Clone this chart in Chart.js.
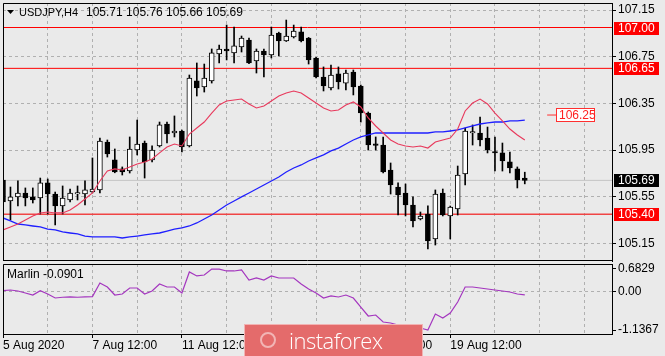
<!DOCTYPE html>
<html><head><meta charset="utf-8">
<script src="https://cdn.jsdelivr.net/npm/chart.js@4.4.1/dist/chart.umd.min.js"></script>
<style>
html,body{margin:0;padding:0;background:#eaeaea;width:665px;height:356px;overflow:hidden;position:relative}
canvas{position:absolute;left:0}
#logo{position:absolute;left:245px;top:325px;width:177px;height:31px;background:#e46b6b;box-shadow:0 0 0 1px #f2b3b3;}
#logo span{position:absolute;left:44px;top:1px;color:#fff;font:300 22px "Open Sans",sans-serif;letter-spacing:-0.5px;line-height:28px}
#logo i{position:absolute;left:15px;top:7px;width:16px;height:16px;border-radius:50%;border:2px solid rgba(255,255,255,0.5);box-sizing:border-box}
</style></head>
<body>
<canvas id="main" width="665" height="262" style="top:0"></canvas>
<canvas id="ind" width="665" height="94" style="top:262px"></canvas>
<div id="logo"><i></i><span>instaforex</span></div>
<script>
// ---------- data ----------
const symbol = 'USDJPY,H4';
const opens = [105.693,105.513,105.548,105.582,105.548,105.539,105.668,105.573,105.471,105.522,105.573,105.573,105.590,105.608,106.019,105.865,105.788,105.770,105.950,106.010,105.865,105.985,106.173,106.096,106.113,105.985,106.542,106.490,106.542,106.773,106.816,106.782,106.833,106.893,106.713,106.799,106.764,106.953,106.884,106.919,106.962,106.910,106.739,106.576,106.482,106.602,106.524,106.619,106.499,106.267,106.004,105.993,105.779,105.633,105.582,105.479,105.359,105.402,105.188,105.582,105.385,105.445,105.745,106.096,106.096,106.053,105.936,105.925,105.848,105.788,105.71];
const highs = [105.882,105.633,105.685,105.625,105.625,105.710,105.702,105.590,105.642,105.616,105.642,105.685,105.882,106.053,106.036,105.959,105.805,106.062,106.207,106.027,105.985,106.190,106.190,106.242,106.120,106.593,106.696,106.687,106.816,106.850,107.021,107.004,106.927,106.910,106.816,106.816,107.004,106.960,107.064,107.021,107.004,106.915,106.745,106.662,106.679,106.662,106.636,106.636,106.507,106.276,106.062,106.062,105.839,105.668,105.659,105.548,105.419,105.471,105.608,105.616,105.470,105.813,106.139,106.165,106.233,106.147,106.062,106.010,105.933,105.805,105.76];
const lows = [105.479,105.351,105.471,105.471,105.496,105.402,105.402,105.308,105.402,105.505,105.522,105.479,105.582,105.582,105.890,105.755,105.736,105.753,105.908,105.710,105.848,105.976,106.010,106.062,105.933,105.976,106.413,106.447,106.524,106.696,106.722,106.696,106.790,106.690,106.610,106.576,106.739,106.756,106.880,106.910,106.876,106.687,106.567,106.456,106.465,106.473,106.465,106.422,106.190,105.950,105.950,105.753,105.573,105.393,105.385,105.291,105.351,105.102,105.136,105.385,105.188,105.393,105.650,105.993,105.985,105.925,105.770,105.770,105.753,105.625,105.66];
const closes = [105.505,105.548,105.582,105.539,105.522,105.668,105.573,105.471,105.539,105.582,105.585,105.608,105.616,106.027,105.916,105.762,105.762,105.959,106.002,105.848,105.950,106.165,106.087,106.113,105.976,106.567,106.482,106.567,106.782,106.816,106.799,106.842,106.910,106.696,106.799,106.764,106.936,106.884,106.927,106.970,106.884,106.722,106.576,106.499,106.593,106.533,106.610,106.490,106.267,105.993,105.990,105.762,105.650,105.565,105.479,105.342,105.385,105.171,105.573,105.393,105.462,105.736,106.113,106.108,106.036,105.950,105.925,105.856,105.796,105.693,105.69];
const maFast = [105.265,105.291,105.316,105.351,105.385,105.411,105.419,105.411,105.411,105.436,105.479,105.530,105.582,105.685,105.770,105.788,105.779,105.805,105.830,105.848,105.873,105.925,105.976,106.002,105.985,106.087,106.139,106.190,106.267,106.336,106.370,106.379,106.387,106.345,106.310,106.327,106.370,106.413,106.439,106.456,106.439,106.396,106.353,106.310,106.285,106.293,106.336,106.362,106.319,106.225,106.156,106.096,106.036,106.002,105.985,105.976,105.985,105.967,106.019,106.036,106.053,106.130,106.285,106.353,106.387,106.345,106.267,106.199,106.130,106.079,106.036];
const maSlow = [105.368,105.342,105.316,105.308,105.299,105.291,105.273,105.265,105.248,105.239,105.231,105.213,105.205,105.205,105.205,105.205,105.196,105.205,105.213,105.222,105.231,105.239,105.256,105.273,105.282,105.299,105.325,105.359,105.393,105.436,105.479,105.513,105.548,105.582,105.616,105.650,105.685,105.719,105.762,105.796,105.822,105.856,105.882,105.908,105.942,105.967,106.002,106.036,106.062,106.079,106.096,106.096,106.096,106.096,106.096,106.096,106.096,106.096,106.105,106.105,106.113,106.122,106.139,106.156,106.173,106.182,106.190,106.190,106.199,106.199,106.207];
const marlin = [0.036,0.057,0.027,-0.033,-0.093,0.036,-0.063,-0.182,-0.160,-0.150,-0.160,-0.150,-0.140,0.266,0.146,-0.093,-0.063,0.116,0.116,-0.063,0.027,0.236,0.146,0.146,-0.033,0.594,0.475,0.504,0.6829,0.680,0.624,0.624,0.654,0.355,0.415,0.355,0.475,0.415,0.415,0.415,0.236,0.087,-0.033,-0.182,-0.122,-0.152,-0.093,-0.182,-0.451,-0.719,-0.690,-0.899,-0.928,-0.990,-1.018,-1.048,-1.078,-1.1367,-0.660,-0.779,-0.630,-0.301,0.146,0.146,0.116,0.087,0.057,0.027,-0.003,-0.063,-0.0901];
const levels = [107.00, 106.65, 105.40];
const lastPrice = 105.69;
const alertPrice = 106.25;
const priceTicks = [107.15, 106.75, 106.35, 105.95, 105.55, 105.15];
const marlinTicks = [0.6829, 0, -1.1367];
const marlinTickLabels = ['0.6829', '0.00', '-1.1367'];
const dateTickBars = [0, 12, 24, 36, 48, 60];
const dateTickLabels = ['5 Aug 2020', '7 Aug 12:00', '11 Aug 12:00', '13 Aug 12:00', '17 Aug 12:00', '19 Aug 12:00'];

// ---------- layout / style ----------
const X_MIN = 0, X_MAX = 81.7, GRID_STEP = 6;
const Y_MIN = 104.999, Y_MAX = 107.210;
const M_MIN = -1.256, M_MAX = 0.832;
const ALERT_FROM = 73.0, ALERT_TO = 74.2;
const FONT = '12px "Liberation Sans", Arial, sans-serif';
const TITLE_FONT = '11px "Liberation Sans", Arial, sans-serif';
const GRID = '#b0b0b0';
const idx = opens.map((_, i) => i);
const gridTicks = [];
for (let v = 0; v <= X_MAX; v += GRID_STEP) gridTicks.push(v);

Chart.defaults.font.family = '"Liberation Sans", Arial, sans-serif';
Chart.defaults.font.size = 12;
Chart.defaults.color = '#000';

function tag(ctx, x, y, text, bg, fg) {
  ctx.fillStyle = bg;
  ctx.fillRect(x, Math.round(y) - 6, 45, 13);
  ctx.fillStyle = fg;
  ctx.font = FONT; ctx.textAlign = 'left'; ctx.textBaseline = 'middle';
  ctx.fillText(text, x + 4, Math.round(y) + 0.5);
}

const decorMain = {
  id: 'decorMain',
  afterDraw(chart) {
    const { ctx, chartArea: a, scales } = chart;
    const y = scales.y, x = scales.x;
    ctx.save();
    ctx.strokeStyle = '#000'; ctx.lineWidth = 1;
    ctx.beginPath();
    ctx.moveTo(a.left + 0.5, a.bottom); ctx.lineTo(a.left + 0.5, a.top + 0.5); ctx.lineTo(a.right, a.top + 0.5);
    ctx.moveTo(a.left, a.bottom - 0.5); ctx.lineTo(a.right, a.bottom - 0.5);
    ctx.stroke();
    // title
    ctx.fillStyle = '#000';
    ctx.beginPath(); ctx.moveTo(7, 10); ctx.lineTo(14, 10); ctx.lineTo(10.5, 14); ctx.closePath(); ctx.fill();
    ctx.textBaseline = 'middle'; ctx.textAlign = 'left';
    ctx.font = TITLE_FONT;
    ctx.fillText(symbol, 19, 12.5);
    ctx.font = FONT;
    const n = opens.length - 1;
    ctx.fillText([opens[n], highs[n], lows[n], closes[n]].map(v => v.toFixed(2)).join(' '), 86, 12.5);
    // right axis tags
    levels.forEach(lv => tag(ctx, a.right + 2, y.getPixelForValue(lv), lv.toFixed(2), '#ff0000', '#fff'));
    tag(ctx, a.right + 2, y.getPixelForValue(lastPrice), lastPrice.toFixed(2), '#000', '#fff');
    // alert label
    const ax = x.getPixelForValue(ALERT_TO), ay = Math.round(y.getPixelForValue(alertPrice));
    ctx.fillStyle = '#ffffff';
    ctx.fillRect(ax, ay - 7, 39, 14);
    ctx.strokeStyle = '#ff3030'; ctx.strokeRect(Math.round(ax) + 0.5, ay - 6.5, 38, 13);
    ctx.fillStyle = '#ff2020';
    ctx.fillText(alertPrice.toFixed(2), Math.round(ax) + 3, ay + 0.5);
    ctx.restore();
  }
};

const decorInd = {
  id: 'decorInd',
  afterDraw(chart) {
    const { ctx, chartArea: a } = chart;
    ctx.save();
    ctx.strokeStyle = '#000'; ctx.lineWidth = 1;
    ctx.beginPath();
    ctx.moveTo(a.left + 0.5, a.bottom); ctx.lineTo(a.left + 0.5, a.top + 0.5); ctx.lineTo(a.right, a.top + 0.5);
    ctx.stroke();
    ctx.fillStyle = '#000'; ctx.font = FONT; ctx.textAlign = 'left'; ctx.textBaseline = 'middle';
    ctx.fillText('Marlin ' + marlin[marlin.length - 1].toFixed(4), 7, 13);
    ctx.restore();
  }
};

function levelLine(v, color, w) {
  return { type: 'line', data: [{ x: X_MIN, y: v }, { x: X_MAX, y: v }], borderColor: color, borderWidth: w,
    pointRadius: 0, order: 5 };
}

const xGrid = {
  type: 'linear', min: X_MIN, max: X_MAX, offset: false,
  afterBuildTicks: s => { s.ticks = gridTicks.map(v => ({ value: v })); },
  grid: { color: GRID, offset: false, drawTicks: false },
  border: { display: false, dash: [3, 3] },
  ticks: { display: false },
  afterFit: s => { s.height = 0; s.paddingLeft = 0; s.paddingRight = 0; }
};

new Chart(document.getElementById('main'), {
  type: 'bar',
  data: {
    datasets: [
      { type: 'line', data: idx.map(i => ({ x: i, y: maFast[i] })), borderColor: '#e8395c', borderWidth: 1.1, pointRadius: 0, order: 0 },
      { type: 'line', data: idx.map(i => ({ x: i, y: maSlow[i] })), borderColor: '#1f1fff', borderWidth: 1.3, pointRadius: 0, order: 0 },
      { type: 'bar', data: idx.map(i => ({ x: i, y: [opens[i], closes[i]] })), grouped: false, barThickness: 5,
        backgroundColor: idx.map(i => closes[i] >= opens[i] ? '#ffffff' : '#000000'), borderColor: '#000', borderWidth: 1,
        borderSkipped: false, order: 2 },
      { type: 'bar', data: idx.map(i => ({ x: i, y: [lows[i], highs[i]] })), grouped: false, barThickness: 1,
        backgroundColor: '#000', borderWidth: 0, order: 3 },
      levelLine(levels[0], '#ff0000', 1),
      levelLine(levels[1], '#ff0000', 1),
      levelLine(levels[2], '#f04545', 1.6),
      levelLine(lastPrice, '#c4c4c4', 1),
      { type: 'line', data: [{ x: ALERT_FROM, y: alertPrice }, { x: ALERT_TO, y: alertPrice }], borderColor: '#ff3030', borderWidth: 1, pointRadius: 0, order: 1 }
    ]
  },
  options: {
    responsive: false, animation: false, devicePixelRatio: 1,
    layout: { padding: { left: 3, top: 3, right: 0, bottom: 1 } },
    plugins: { legend: { display: false }, tooltip: { enabled: false } },
    scales: {
      x: xGrid,
      y: {
        type: 'linear', position: 'right', min: Y_MIN, max: Y_MAX, beginAtZero: false,
        afterBuildTicks: s => { s.ticks = priceTicks.map(v => ({ value: v })); },
        ticks: { callback: v => v.toFixed(2), padding: 2, autoSkip: false, color: '#000', font: { size: 12 } },
        grid: { color: GRID, tickColor: '#000', tickLength: 4, tickBorderDash: [] },
        border: { display: true, color: '#000', width: 1, dash: [3, 3] },
        afterFit: s => { s.width = 53; s.paddingTop = 0; s.paddingBottom = 0; }
      }
    }
  },
  plugins: [decorMain]
});

new Chart(document.getElementById('ind'), {
  type: 'line',
  data: {
    datasets: [
      { data: idx.map(i => ({ x: i, y: marlin[i] })), borderColor: '#a436bf', borderWidth: 1.2, pointRadius: 0 }
    ]
  },
  options: {
    responsive: false, animation: false, devicePixelRatio: 1,
    layout: { padding: { left: 3, top: 2, right: 0, bottom: 0 } },
    plugins: { legend: { display: false }, tooltip: { enabled: false } },
    scales: {
      x: {
        type: 'linear', min: X_MIN, max: X_MAX, offset: false,
        afterBuildTicks: s => { s.ticks = gridTicks.map(v => ({ value: v })); },
        grid: { color: GRID, drawTicks: true, tickLength: 4, tickBorderDash: [],
          tickColor: c => (c.tick && dateTickBars.includes(c.tick.value)) ? '#000' : 'rgba(0,0,0,0)' },
        border: { display: true, color: '#000', width: 1, dash: [3, 3] },
        ticks: {
          autoSkip: false, maxRotation: 0, minRotation: 0, align: 'start', padding: 0, color: '#000',
          callback: v => { const k = dateTickBars.indexOf(v); return k >= 0 ? dateTickLabels[k] : ''; }
        },
        afterFit: s => { s.height = 22; s.paddingLeft = 0; s.paddingRight = 0; }
      },
      y: {
        type: 'linear', position: 'right', min: M_MIN, max: M_MAX,
        afterBuildTicks: s => { s.ticks = marlinTicks.map(v => ({ value: v })); },
        ticks: { autoSkip: false, padding: 2, color: '#000',
          callback: v => { const k = marlinTicks.indexOf(v); return k >= 0 ? marlinTickLabels[k] : ''; } },
        grid: { color: c => (c.tick && c.tick.value === 0) ? GRID : 'rgba(0,0,0,0)', tickColor: '#000', tickLength: 4, tickBorderDash: [] },
        border: { display: true, color: '#000', width: 1, dash: [3, 3] },
        afterFit: s => { s.width = 53; s.paddingTop = 0; s.paddingBottom = 0; }
      }
    }
  },
  plugins: [decorInd]
});
</script>
</body></html>
